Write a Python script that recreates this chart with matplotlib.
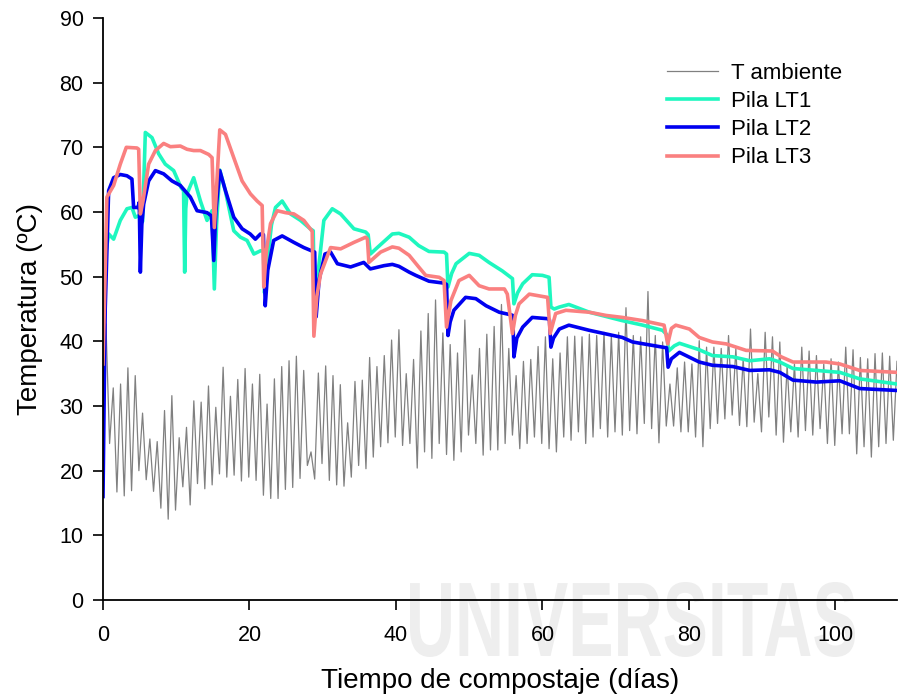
import numpy as np
import matplotlib
matplotlib.use("Agg")
import matplotlib.pyplot as plt
from matplotlib.textpath import TextPath
from matplotlib.patches import PathPatch
from matplotlib.font_manager import FontProperties
from matplotlib.transforms import Affine2D

plt.rcParams['font.family'] = ['Liberation Sans', 'DejaVu Sans']

# Ambient temperature: daily maxima and minima (ºC)
amb_max = [42.7, 32.8, 33.4, 35.9, 34.7, 28.9, 24.9, 24.5, 29.3, 31.6, 25.1, 26.7, 30.8, 30.6,
           33.1, 29.8, 36.0, 31.5, 34.1, 35.8, 33.4, 34.9, 30.3, 34.2, 36.1, 37.0, 37.7,
           35.5, 22.9, 35.1, 36.2, 34.7, 33.3, 27.4, 33.8, 34.0, 37.5, 36.1, 37.8, 40.2, 41.8,
           35.0, 37.2, 41.6, 44.3, 46.4, 41.3, 39.5, 38.2, 43.3, 34.8, 38.9, 41.1, 42.3,
           45.7, 38.9, 34.7, 36.9, 37.2, 39.2, 40.7, 37.3, 38.2, 40.7, 40.8, 40.7, 41.1, 40.9,
           41.4, 40.9, 41.4, 45.2, 40.9, 40.7, 47.7, 40.9, 39.9, 33.4, 35.9, 36.8,
           36.5, 40.1, 39.1, 39.1, 38.9, 40.9, 38.9, 37.3, 41.9, 35.0, 41.4, 40.7, 39.9, 36.3,
           36.5, 39.1, 38.5, 37.8, 36.5, 37.3, 36.8, 39.1, 38.7, 37.5, 37.3, 38.1, 38.2, 37.7, 36.9]
amb_min = [24.2, 16.7, 16.1, 16.9, 20.0, 18.6, 16.8, 14.2, 12.5, 13.9, 17.5, 14.7, 18.0, 17.2,
           17.8, 19.5, 19.0, 19.3, 18.4, 19.0, 18.5, 16.2, 15.7, 15.7, 17.1, 17.4,
           18.8, 20.8, 18.7, 21.1, 18.5, 17.8, 17.6, 19.0, 20.8, 20.3, 22.1, 23.7, 24.3, 25.2,
           23.9, 24.2, 20.4, 22.9, 21.9, 24.2, 22.5, 21.6, 22.9, 25.5, 24.2, 22.4, 23.2,
           23.2, 24.2, 25.5, 23.4, 24.2, 25.2, 24.2, 23.4, 22.9, 25.2, 24.7, 26.0, 24.2, 25.2,
           26.5, 25.2, 26.0, 25.5, 26.2, 25.7, 27.3, 26.5, 24.3, 26.9, 26.9, 26.0,
           26.0, 25.2, 23.7, 26.5, 27.3, 28.0, 28.6, 27.0, 26.8, 27.5, 26.0, 28.3, 25.5, 24.4,
           26.0, 25.2, 26.2, 25.5, 26.5, 24.2, 23.9, 25.7, 25.7, 22.6, 23.7, 22.1, 23.7, 24.2, 24.7]
amb_start = 31.0

# Pile temperatures (day, ºC)
t_lt1 = [0, 0.3, 0.77, 1.45, 2.36, 3.27, 3.95, 4.41, 5.1, 5.4, 5.78, 6.69, 7.6, 8.5, 9.65,
         10.65, 11.0, 11.15, 11.3, 11.47, 12.38, 13.3, 14.2, 14.89, 15.2, 15.5, 15.94, 16.7,
         17.85, 18.77, 19.67, 20.6, 21.5, 21.9, 22.05, 22.4, 23.0, 23.55, 24.46, 25.6, 26.97,
         28.3, 28.7, 28.9, 29.4, 30.15, 31.3, 32.44, 34.26, 35.86, 36.2, 36.5, 37.45, 39.5,
         40.4, 41.8, 43.1, 44.5, 46.56, 46.9, 47.1, 47.6, 48.2, 50.0, 51.35, 52.7, 54.5, 55.9,
         56.1, 56.6, 57.3, 58.6, 60.0, 60.9, 61.15, 61.6, 62.3, 63.6, 66.4, 70.9, 73.7, 76.4,
         77.0, 77.2, 78.0, 78.7, 81.4, 83.2, 86.0, 88.3, 91.0, 92.4, 94.2, 97.4, 100.6, 103.3, 108.4]
lt1 = [46.0, 53.0, 56.6, 55.8, 58.7, 60.5, 60.7, 59.2, 59.5, 58.5, 72.3, 71.5, 69.0, 67.4, 66.4,
       63.8, 63.3, 50.7, 60.5, 62.8, 65.3, 61.7, 58.7, 60.2, 48.1, 58.0, 66.5, 63.3,
       57.1, 56.1, 55.6, 53.5, 54.0, 54.0, 47.5, 52.0, 58.0, 60.7, 61.7, 59.7, 58.7,
       57.4, 57.1, 44.0, 51.0, 58.7, 60.5, 59.7, 57.4, 56.9, 56.5, 53.5, 54.5, 56.6,
       56.7, 56.1, 54.8, 53.9, 53.8, 53.5, 48.4, 50.5, 52.0, 53.6, 53.3, 52.2, 50.9, 49.7,
       45.8, 47.5, 48.9, 50.3, 50.2, 49.9, 45.3, 45.0, 45.3, 45.7, 44.5, 43.2, 42.5, 41.7,
       41.0, 38.5, 39.3, 39.7, 38.7, 37.8, 37.6, 37.0, 37.3, 36.8, 35.8, 35.5, 35.2, 34.2, 33.4]

t_lt2 = [0, 0.3, 0.77, 1.45, 2.36, 3.27, 3.95, 4.18, 4.77, 4.95, 5.1, 5.3, 5.55, 6.23, 7.15,
         8.28, 9.42, 10.56, 11.93, 12.84, 14.2, 14.8, 15.12, 15.4, 15.94, 16.72, 17.85, 19.0,
         20.1, 20.8, 21.5, 21.9, 22.15, 22.5, 23.3, 24.46, 26.06, 27.42, 28.9, 29.1, 29.5,
         30.3, 31.07, 32.0, 33.8, 35.6, 36.5, 38.36, 39.5, 40.4, 41.8, 42.7, 44.5, 46.56, 46.9,
         47.1, 47.4, 47.9, 49.5, 50.9, 52.3, 54.1, 55.7, 55.95, 56.1, 56.5, 57.3, 58.6, 60.7,
         60.95, 61.15, 61.5, 62.3, 63.6, 66.4, 70.9, 72.3, 76.4, 76.95, 77.15, 77.6, 78.7,
         81.4, 83.2, 86.0, 88.3, 91.0, 92.4, 94.2, 97.4, 100.6, 103.3, 108.4]
lt2 = [16.0, 45.0, 63.3, 65.3, 65.8, 65.6, 65.1, 60.7, 60.7, 61.5, 50.7, 58.0, 61.2, 64.8, 66.4,
       65.9, 64.8, 64.1, 62.3, 60.2, 59.9, 59.4, 52.5, 60.0, 66.4, 63.3, 59.2, 57.4,
       56.6, 55.8, 56.6, 56.5, 45.5, 51.0, 55.6, 56.3, 55.3, 54.5, 53.8, 43.8, 49.5,
       53.5, 53.8, 52.0, 51.5, 52.2, 51.2, 51.7, 51.9, 51.6, 50.7, 50.2, 49.3, 49.0, 48.8,
       40.9, 43.0, 44.8, 46.8, 46.6, 45.5, 44.5, 44.1, 44.0, 37.6, 40.5, 42.2, 43.7, 43.5,
       43.3, 39.1, 40.5, 41.9, 42.5, 41.7, 40.6, 39.9, 39.1, 39.0, 36.0, 37.3, 38.3,
       36.8, 36.3, 36.1, 35.5, 35.6, 35.2, 34.0, 33.7, 33.9, 32.7, 32.4]

t_lt3 = [0, 0.53, 1.45, 2.36, 3.18, 4.64, 4.87, 5.1, 5.46, 6.23, 7.15, 8.28, 9.2, 10.56, 11.47,
         12.38, 13.3, 14.43, 14.89, 15.2, 15.94, 16.72, 17.85, 18.99, 20.13, 21.04, 21.73,
         21.95, 22.3, 22.87, 23.78, 24.92, 26.06, 27.42, 28.56, 28.79, 29.2, 29.7, 31.07,
         32.44, 34.26, 35.86, 36.1, 36.3, 37.9, 39.5, 40.4, 41.8, 43.1, 44.06, 45.9, 46.56,
         46.9, 47.5, 48.6, 50.0, 51.35, 52.7, 54.8, 55.2, 55.9, 56.3, 56.8, 58.2, 60.7, 61.05,
         61.8, 63.2, 66.4, 68.7, 70.9, 73.7, 76.6, 77.1, 77.6, 78.2, 80.06, 81.4, 83.2, 85.1,
         87.8, 91.4, 92.6, 94.2, 98.7, 100.6, 103.3, 108.4]
lt3 = [36.5, 62.3, 64.1, 67.4, 70.0, 69.9, 69.7, 59.7, 61.7, 67.4, 69.5, 70.6, 70.1, 70.2, 69.7,
       69.5, 69.5, 68.9, 68.4, 57.6, 72.7, 72.0, 68.4, 64.8, 62.8, 61.7, 61.0,
       48.4, 54.0, 58.2, 60.2, 59.9, 59.7, 58.7, 57.0, 40.8, 47.0, 50.4, 54.5,
       54.3, 55.3, 56.1, 55.8, 52.2, 53.8, 54.6, 54.4, 53.3, 51.5, 50.2, 49.9, 49.4,
       42.2, 46.3, 49.4, 50.2, 48.6, 48.1, 48.1, 47.3, 41.2, 44.0, 45.8, 47.3, 46.8, 41.2,
       44.3, 44.8, 44.5, 44.0, 43.7, 43.2, 42.5, 39.6, 42.0, 42.5, 41.9, 40.6, 39.9, 39.6,
       38.6, 38.5, 37.6, 36.8, 36.8, 36.5, 35.5, 35.2]

x_ticks = [0, 20, 40, 60, 80, 100]
y_ticks = [0, 10, 20, 30, 40, 50, 60, 70, 80, 90]

# Ambient series: maximum in the afternoon, minimum half a day later
t_max = np.arange(len(amb_max)) + 0.4
t_min = np.arange(len(amb_min)) + 0.9
t_amb = np.concatenate([[0.0], np.ravel(np.column_stack([t_max[:-1], t_min])), [t_max[-1]]])
v_amb = np.concatenate([[amb_start], np.ravel(np.column_stack([amb_max[:-1], amb_min])), [amb_max[-1]]])

W, H = 898, 695
fig = plt.figure(figsize=(W / 100, H / 100), dpi=100)
fig.patch.set_facecolor('white')

# faint institutional watermark behind the plot
tp = TextPath((0, 0), "UNIVERSITAS", size=100,
              prop=FontProperties(family='Liberation Sans', weight='bold'))
bb = tp.get_extents()
wm_tr = (Affine2D().translate(-bb.x0, -bb.y0)
         .scale(445 / bb.width / W, 75 / bb.height / H)
         .translate(410 / W, (H - 657) / H)) + fig.transFigure
wm = PathPatch(tp, transform=wm_tr, facecolor='#eeeeee', edgecolor='none', zorder=-5)
fig.add_artist(wm)

ax = fig.add_axes([103 / W, (H - 600) / H, (897 - 103) / W, (600 - 18) / H])
ax.set_facecolor('none')

ax.plot(t_amb, v_amb, color='#808080', lw=0.9, label='T ambiente')
ax.plot(t_lt1, lt1, color='#1EF7BF', lw=2.6, label='Pila LT1')
ax.plot(t_lt2, lt2, color='#0000F0', lw=2.6, label='Pila LT2')
ax.plot(t_lt3, lt3, color='#FA8080', lw=2.6, label='Pila LT3')

ax.set_xlim(0, 108.4)
ax.set_ylim(0, 90)
ax.set_xticks(x_ticks)
ax.set_yticks(y_ticks)
ax.tick_params(direction='out', length=7, width=1.2, labelsize=15.5, colors='black')
ax.tick_params(axis='x', pad=11)
ax.tick_params(axis='y', pad=7)
for s in ('top', 'right'):
    ax.spines[s].set_visible(False)
for s in ('left', 'bottom'):
    ax.spines[s].set_linewidth(1.3)

ax.set_xlabel('Tiempo de compostaje (días)', fontsize=20, labelpad=16)
ax.set_ylabel('Temperatura (ºC)', fontsize=20, labelpad=12)

leg = fig.legend(loc='upper left', bbox_to_anchor=(667 / W, 1 - 63 / H), frameon=False,
                 fontsize=16, handlelength=2.3, handletextpad=0.6, labelspacing=0.32,
                 borderpad=0, borderaxespad=0)

fig.savefig('out.png', dpi=100)
